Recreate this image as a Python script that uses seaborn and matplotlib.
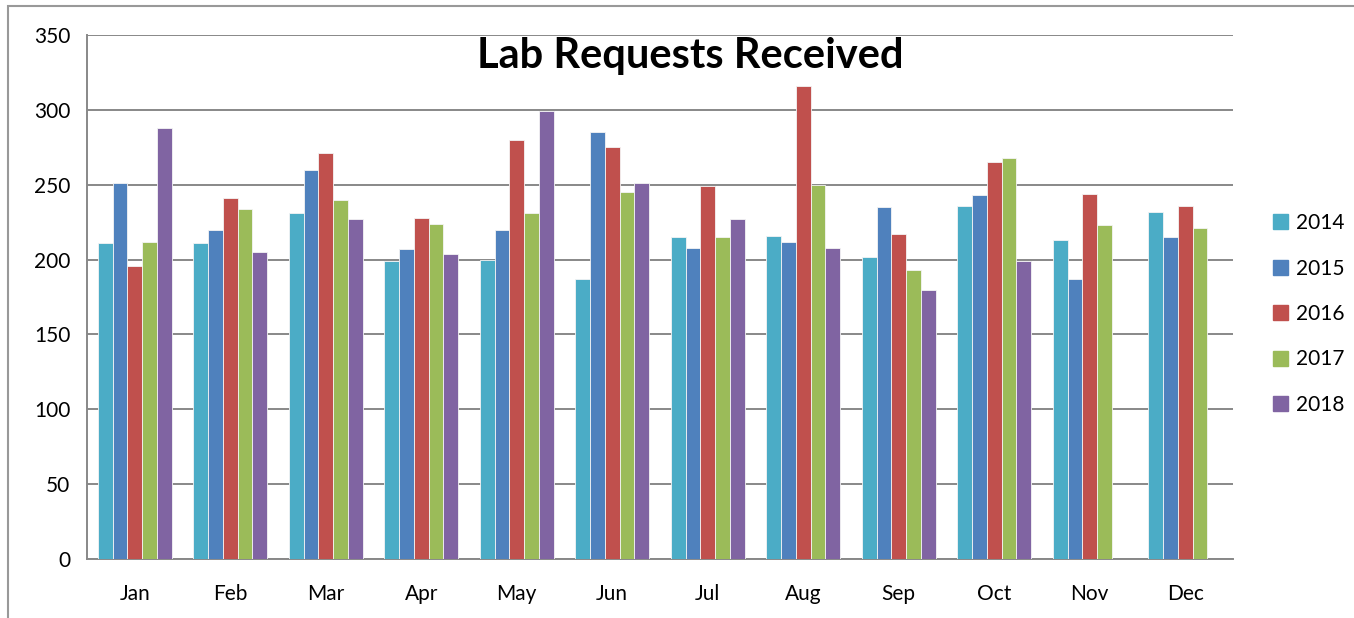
import matplotlib
matplotlib.use("Agg")
import matplotlib.pyplot as plt
import matplotlib.patches as mpatches
import seaborn as sns
import pandas as pd
import numpy as np

# data
months = ["Jan", "Feb", "Mar", "Apr", "May", "Jun",
          "Jul", "Aug", "Sep", "Oct", "Nov", "Dec"]
years = ["2014", "2015", "2016", "2017", "2018"]
req_2014 = [211, 211, 231, 199, 200, 187, 215, 216, 202, 236, 213, 232]
req_2015 = [251, 220, 260, 207, 220, 285, 208, 212, 235, 243, 187, 215]
req_2016 = [196, 241, 271, 228, 280, 275, 249, 316, 217, 265, 244, 236]
req_2017 = [212, 234, 240, 224, 231, 245, 215, 250, 193, 268, 223, 221]
req_2018 = [288, 205, 227, 204, 299, 251, 227, 208, 180, 199, np.nan, np.nan]
colors = ["#4BACC6", "#4F81BD", "#C0504D", "#9BBB59", "#8064A2"]

series = [req_2014, req_2015, req_2016, req_2017, req_2018]
df = pd.DataFrame({
    "Month": months * len(years),
    "Year": [y for y in years for _ in months],
    "Requests": [v for s in series for v in s],
})

sns.set_style("white")
plt.rcParams["font.family"] = ["Lato", "DejaVu Sans"]
plt.rcParams["text.color"] = "black"
plt.rcParams["xtick.color"] = "black"
plt.rcParams["ytick.color"] = "black"

fig = plt.figure(figsize=(13.54, 6.18), dpi=100)
ax = fig.add_axes([87 / 1354, 59 / 618, 1146 / 1354, 524 / 618])

sns.barplot(data=df, x="Month", y="Requests", hue="Year", order=months,
            hue_order=years, palette=colors, saturation=1, width=0.77, gap=0,
            edgecolor="#f4f4f4", linewidth=0.6, ax=ax, zorder=3)

ax.set_ylim(0, 350)
ax.set_xlim(-0.5, 11.5)
ax.set_yticks(range(0, 351, 50))
ax.yaxis.grid(True, color="#888888", linewidth=1.4, zorder=0)
ax.set_axisbelow(True)
ax.set_xlabel("")
ax.set_ylabel("")

# tick marks between the month groups, labels centred on groups
ax.set_xticks(np.arange(-0.5, 12, 1), minor=False)
ax.set_xticklabels([])
ax.set_xticks(np.arange(12), minor=True)
ax.set_xticklabels(months, minor=True)
ax.tick_params(axis="x", which="major", direction="out", length=8,
               width=1.4, color="#888888")
ax.tick_params(axis="x", which="minor", length=0, pad=18, labelsize=15)
ax.tick_params(axis="y", direction="out", length=8, width=1.4,
               color="#888888", pad=4, labelsize=15)

for side in ["top", "right"]:
    ax.spines[side].set_visible(False)
for side in ["left", "bottom"]:
    ax.spines[side].set_color("#888888")
    ax.spines[side].set_linewidth(1.4)

handles = [mpatches.Patch(color=c, label=y) for c, y in zip(colors, years)]
ax.legend(handles=handles, loc="center left", bbox_to_anchor=(1.035, 0.4676),
          frameon=False, fontsize=15, handlelength=0.72, handleheight=0.72,
          handletextpad=0.4, labelspacing=1.22, borderaxespad=0, borderpad=0)

fig.text(690 / 1354, 1 - 56 / 618, "Lab Requests Received", ha="center",
         va="center", fontsize=30, fontweight="bold", color="black")

# outer chart frame (cut off on right and bottom)
frame = mpatches.Rectangle((8 / 1354, -0.05), 1.2, 1 - 6 / 618 + 0.05,
                           transform=fig.transFigure, fill=False,
                           edgecolor="#999999", linewidth=1.5)
fig.patches.append(frame)

fig.savefig("out.png", dpi=100)
